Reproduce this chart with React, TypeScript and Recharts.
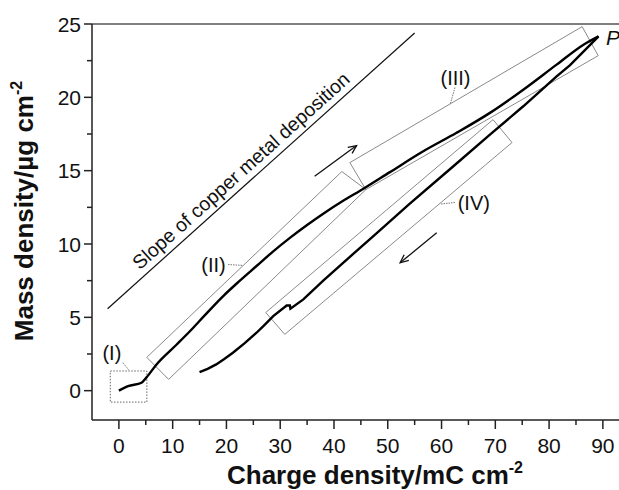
import React from "react";
import {
  LineChart,
  Line,
  XAxis,
  YAxis,
  ReferenceLine,
  ReferenceArea,
  ReferenceDot,
  Label,
} from "recharts";

// ticks (major every 10 / 5, minor halfway)
const xTicks = [0, 5, 10, 15, 20, 25, 30, 35, 40, 45, 50, 55, 60, 65, 70, 75, 80, 85, 90];
const yTicks = [0, 2.5, 5, 7.5, 10, 12.5, 15, 17.5, 20, 22.5, 25];

// forward scan (I) -> (II) -> (III) up to P
const fwdCharge = [0, 1.7, 4.2, 5.1, 7.0, 10.7, 13.2, 16.0, 19.4, 22.5, 25.6, 28.7, 31.8, 35.0, 38.0, 41.7, 45.4, 50.4, 56.6, 62.8, 69.0, 75.2, 81.4, 86.4, 89.2];
const fwdMass = [0, 0.31, 0.54, 0.89, 1.79, 3.13, 4.05, 5.15, 6.45, 7.5, 8.5, 9.5, 10.42, 11.3, 12.07, 12.95, 13.75, 14.9, 16.32, 17.58, 18.94, 20.52, 22.23, 23.59, 24.16];

// reverse scan (IV) back from P
const revCharge = [15.0, 16.5, 18.1, 19.6, 21.2, 23.4, 25.6, 27.1, 28.7, 31.2, 31.8, 31.9, 34.3, 38.0, 41.7, 47.9, 54.1, 62.2, 69.0, 75.2, 81.4, 83.9, 89.2];
const revMass = [1.27, 1.49, 1.79, 2.16, 2.59, 3.24, 3.95, 4.49, 5.08, 5.81, 5.81, 5.59, 6.22, 7.5, 8.72, 10.72, 12.75, 15.3, 17.46, 19.39, 21.43, 22.2, 24.16];

// theoretical copper deposition slope
const copperCharge = [-2.1, 55.0];
const copperMass = [5.59, 24.39];

// rotated region boxes, corners in data units
const boxII = [[5.18, 2.27], [9.25, 0.77], [45.93, 13.71], [41.46, 14.94]];
const boxIII = [[42.95, 15.55], [86.15, 24.82], [89.13, 22.84], [45.93, 13.71]];
const boxIV = [[27.31, 5.33], [69.57, 18.48], [73.11, 16.92], [30.85, 3.84]];
const boxI = { x1: -1.6, x2: 5.2, y1: -0.78, y2: 1.34 };

const regionLabels = [
  { text: "(I)", x: -1.3, y: 2.6 },
  { text: "(II)", x: 17.6, y: 8.56 },
  { text: "(III)", x: 62.6, y: 21.32 },
  { text: "(IV)", x: 66.0, y: 12.81 },
];
const leaders = [
  [[0.74, 1.91], [1.86, 1.4]],
  [[20.3, 8.6], [23.1, 8.54]],
  [[62.5, 20.67], [61.6, 19.52]],
  [[62.5, 12.83], [59.7, 12.72]],
];
const arrows = [
  [[36.4, 14.62], [44.2, 16.71]],
  [[59.1, 10.76], [52.3, 8.72]],
];

const forward = fwdCharge.map((x, i) => ({ x, y: fwdMass[i] }));
const reverse = revCharge.map((x, i) => ({ x, y: revMass[i] }));
const copper = copperCharge.map((x, i) => ({ x, y: copperMass[i] }));

const FONT = "'Liberation Sans', Arial, sans-serif";
const AXIS = "#222";

const boxSegments = (b: number[][]) =>
  b.map((p, i) => {
    const q = b[(i + 1) % b.length];
    return [{ x: p[0], y: p[1] }, { x: q[0], y: q[1] }];
  });

const XTick = (props: any) => {
  const { x, y, payload } = props;
  const v = payload.value;
  const major = v % 10 === 0;
  return (
    <g>
      <line x1={x} y1={y} x2={x} y2={y + (major ? 9 : 5)} stroke={AXIS} strokeWidth={1.5} />
      {major && (
        <text x={x} y={y + 33} textAnchor="middle" fontSize={21} fill="#111" fontFamily={FONT}>
          {v}
        </text>
      )}
    </g>
  );
};

const YTick = (props: any) => {
  const { x, y, payload } = props;
  const v = payload.value;
  const major = v % 5 === 0;
  return (
    <g>
      <line x1={x - (major ? 8 : 5)} y1={y} x2={x} y2={y} stroke={AXIS} strokeWidth={1.5} />
      {major && (
        <text x={x - 11} y={y + 7.5} textAnchor="end" fontSize={21} fill="#111" fontFamily={FONT}>
          {v}
        </text>
      )}
    </g>
  );
};

const arrowShape = (p: any) => {
  const { x1, y1, x2, y2 } = p;
  const a = Math.atan2(y2 - y1, x2 - x1);
  const L = 9;
  const w = 0.42;
  const hx1 = x2 - L * Math.cos(a - w);
  const hy1 = y2 - L * Math.sin(a - w);
  const hx2 = x2 - L * Math.cos(a + w);
  const hy2 = y2 - L * Math.sin(a + w);
  return (
    <g>
      <line x1={x1} y1={y1} x2={x2} y2={y2} stroke="#111" strokeWidth={1.3} />
      <polyline points={`${hx1},${hy1} ${x2},${y2} ${hx2},${hy2}`} fill="none" stroke="#111" strokeWidth={1.3} />
    </g>
  );
};

export default function App() {
  return (
    <div
      style={{
        position: "absolute",
        left: 0,
        top: 0,
        width: 619,
        height: 490,
        overflow: "hidden",
        background: "#fff",
      }}
    >
      <LineChart width={619} height={490} margin={{ top: 24, right: 0, bottom: 0, left: 0 }}>
        <XAxis
          dataKey="x"
          type="number"
          domain={[-5, 93]}
          ticks={xTicks}
          interval={0}
          allowDataOverflow
          height={70}
          tickSize={0}
          tickMargin={0}
          tickLine={false}
          tick={(p: any) => <XTick {...p} />}
          axisLine={{ stroke: AXIS, strokeWidth: 1.5 }}
        >
          <Label
            content={() => (
              <text x={375} y={484} textAnchor="middle" fontSize={26} fontWeight="bold" fill="#111" fontFamily={FONT}>
                Charge density/mC cm
                <tspan dy={-11} fontSize={16}>-2</tspan>
              </text>
            )}
          />
        </XAxis>
        <YAxis
          type="number"
          domain={[-2, 25]}
          ticks={yTicks}
          interval={0}
          allowDataOverflow
          width={92}
          tickSize={0}
          tickMargin={0}
          tickLine={false}
          tick={(p: any) => <YTick {...p} />}
          axisLine={{ stroke: AXIS, strokeWidth: 1.5 }}
        >
          <Label
            content={() => (
              <text
                x={33}
                y={211}
                transform="rotate(-90 33 211)"
                textAnchor="middle"
                fontSize={26}
                fontWeight="bold"
                fill="#111"
                fontFamily={FONT}
              >
                Mass density/µg cm
                <tspan dy={-11} fontSize={16}>-2</tspan>
              </text>
            )}
          />
        </YAxis>

        <ReferenceLine y={25} stroke="#555" strokeWidth={1.5} />

        {/* region boxes */}
        <ReferenceArea
          x1={boxI.x1}
          x2={boxI.x2}
          y1={boxI.y1}
          y2={boxI.y2}
          fill="none"
          fillOpacity={0}
          stroke="#666"
          strokeWidth={1}
          strokeDasharray="1.5 1.5"
        />
        {[boxII, boxIII, boxIV].flatMap((b, bi) =>
          boxSegments(b).map((seg, si) => (
            <ReferenceLine key={`b${bi}-${si}`} segment={seg} stroke="#8a8a8a" strokeWidth={1} ifOverflow="visible" />
          ))
        )}
        {leaders.map((l, i) => (
          <ReferenceLine
            key={`l${i}`}
            segment={[{ x: l[0][0], y: l[0][1] }, { x: l[1][0], y: l[1][1] }]}
            stroke="#777"
            strokeWidth={1}
            strokeDasharray="1.5 1"
            ifOverflow="visible"
          />
        ))}
        {arrows.map((a, i) => (
          <ReferenceLine
            key={`a${i}`}
            segment={[{ x: a[0][0], y: a[0][1] }, { x: a[1][0], y: a[1][1] }]}
            shape={arrowShape}
            ifOverflow="visible"
          />
        ))}

        <Line
          data={copper}
          dataKey="y"
          type="linear"
          stroke="#111"
          strokeWidth={1.2}
          dot={false}
          isAnimationActive={false}
        />
        <Line
          data={forward}
          dataKey="y"
          type="monotone"
          stroke="#000"
          strokeWidth={2.4}
          dot={false}
          isAnimationActive={false}
        />
        <Line
          data={reverse}
          dataKey="y"
          type="linear"
          stroke="#000"
          strokeWidth={2.4}
          dot={false}
          isAnimationActive={false}
        />

        {regionLabels.map((l, i) => (
          <ReferenceDot
            key={`t${i}`}
            x={l.x}
            y={l.y}
            ifOverflow="visible"
            shape={(p: any) => (
              <text x={p.cx} y={p.cy + 7} textAnchor="middle" fontSize={20} fill="#111" fontFamily={FONT}>
                {l.text}
              </text>
            )}
          />
        ))}
        <ReferenceDot
          x={22.8}
          y={14.96}
          ifOverflow="visible"
          shape={(p: any) => (
            <text
              x={p.cx}
              y={p.cy + 6}
              transform={`rotate(-41.9 ${p.cx} ${p.cy})`}
              textAnchor="middle"
              fontSize={19.5}
              fill="#111"
              fontFamily={FONT}
            >
              Slope of copper metal deposition
            </text>
          )}
        />
        <ReferenceDot
          x={91.9}
          y={24.12}
          ifOverflow="visible"
          shape={(p: any) => (
            <text x={p.cx} y={p.cy + 8} textAnchor="middle" fontSize={21} fontStyle="italic" fill="#111" fontFamily={FONT}>
              P
            </text>
          )}
        />
      </LineChart>
    </div>
  );
}
